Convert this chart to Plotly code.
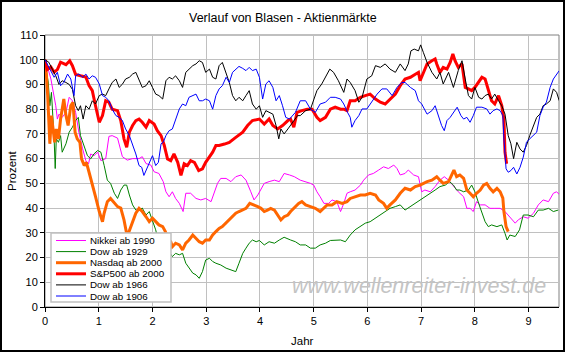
import plotly.graph_objects as go

# ---------------- data (years since peak, percent of peak) ----------------
nikkei_x = [0, 0.04, 0.11, 0.17, 0.20, 0.23, 0.26, 0.32, 0.39, 0.45, 0.51, 0.57, 0.63, 0.70, 0.76, 0.81, 0.85,
            0.91, 0.98, 1.04, 1.13, 1.19, 1.25, 1.35, 1.44, 1.53, 1.63, 1.75, 1.81, 1.88, 1.97, 2.03, 2.12, 2.20,
            2.25, 2.31, 2.37, 2.43, 2.50, 2.57, 2.62, 2.71, 2.81, 2.90, 2.99, 3.09, 3.15, 3.21, 3.27, 3.37, 3.46,
            3.55, 3.65, 3.74, 3.83, 3.89, 3.96, 4.02, 4.08, 4.17, 4.27, 4.36, 4.45, 4.55, 4.64, 4.75, 4.85, 4.94,
            5.00, 5.06, 5.12, 5.19, 5.28, 5.34, 5.43, 5.50, 5.56, 5.62, 5.68, 5.77, 5.87, 5.93, 6.02, 6.11, 6.21,
            6.30, 6.39, 6.49, 6.55, 6.61, 6.70, 6.76, 6.86, 6.95, 7.01, 7.07, 7.17, 7.26, 7.35, 7.43, 7.51, 7.60,
            7.69, 7.79, 7.85, 7.91, 7.97, 8.03, 8.10, 8.19, 8.28, 8.37, 8.47, 8.56, 8.65, 8.75, 8.81, 8.90, 8.99,
            9.09, 9.18, 9.27, 9.37, 9.46, 9.52, 9.58]
nikkei_y = [100, 97.6, 92.2, 85.5, 81.4, 76, 78, 76.7, 78.7, 84.8, 83.4, 78.7, 70.7, 64, 59.2, 57.9, 61.9,
            61.2, 62.6, 59.2, 60, 69, 69.3, 68.3, 60.8, 59.4, 60, 60, 60.8, 58, 57.4, 54.7, 54, 50.7,
            46.6, 44.6, 46.6, 43.9, 41.9, 38.6, 46, 46, 43.9, 43.3, 43.9, 42.6, 46, 50, 52, 52, 50.7,
            52.7, 53.4, 51.3, 46.6, 43.3, 45.3, 48, 50, 50.7, 51.3, 50.7, 54, 53.4, 52.7, 51.3, 50.7, 50,
            49.3, 46.6, 44.6, 41.9, 41.9, 43.3, 42.6, 38.6, 41.9, 46, 46.6, 47.3, 49.3, 51.3, 53.4, 54, 55.4,
            56.7, 56, 57.4, 56, 53.4, 54, 55.4, 53.4, 52.7, 46.6, 47.3, 46.6, 48.7, 51.3, 52.7, 51.3, 48.7,
            46.6, 44.6, 39.9, 39.9, 38.6, 42.6, 41.3, 41.3, 39.9, 39.9, 39.9, 38.6, 36.5, 33.9, 35.3, 36.5, 35.9,
            37.9, 41.3, 43.3, 42.6, 46, 46.6, 45.3]

dow29_x = [0, 0.02, 0.06, 0.09, 0.12, 0.15, 0.17, 0.19, 0.21, 0.25, 0.29, 0.32, 0.39, 0.45, 0.51, 0.57, 0.62,
           0.66, 0.73, 0.79, 0.85, 0.91, 0.98, 1.04, 1.10, 1.16, 1.22, 1.29, 1.35, 1.41, 1.47, 1.52, 1.57, 1.63,
           1.69, 1.75, 1.81, 1.88, 1.94, 2.00, 2.06, 2.11, 2.16, 2.20, 2.25, 2.31, 2.37, 2.43, 2.50, 2.56, 2.62,
           2.68, 2.75, 2.81, 2.87, 2.93, 2.99, 3.06, 3.12, 3.18, 3.27, 3.37, 3.46, 3.55, 3.61, 3.68, 3.74, 3.80,
           3.86, 3.93, 3.99, 4.08, 4.17, 4.27, 4.36, 4.45, 4.57, 4.66, 4.75, 4.85, 4.94, 5.03, 5.12, 5.22, 5.31,
           5.40, 5.50, 5.59, 5.68, 5.77, 5.87, 5.96, 6.05, 6.15, 6.24, 6.33, 6.42, 6.52, 6.61, 6.70, 6.80, 6.89,
           6.98, 7.07, 7.17, 7.26, 7.35, 7.45, 7.53, 7.60, 7.66, 7.72, 7.79, 7.88, 7.94, 8.00, 8.07, 8.13, 8.19,
           8.25, 8.31, 8.41, 8.50, 8.56, 8.60, 8.65, 8.75, 8.83, 8.90, 8.99, 9.09, 9.18, 9.27, 9.37, 9.46, 9.55]
dow29_y = [100, 96, 91, 81.4, 86.8, 76, 68, 56, 68, 66.6, 69.3, 62.6, 66, 70.7, 72.7, 75.4, 76.7,
           69.3, 65.3, 61.2, 59.9, 61.9, 63.3, 62.6, 57.3, 51.3, 50, 46, 43.9, 47.3, 49.3, 49.3, 45.3, 41.3,
           39.2, 39.2, 40, 37.2, 38.6, 35.2, 31.2, 26.4, 27.8, 29.1, 25.8, 22.4, 20.4, 21.7, 21.1, 21.7, 17.7,
           15.7, 13.7, 13, 11.6, 14.3, 19, 19.7, 18.4, 17.7, 17, 15.7, 15, 14.3, 17.7, 21.7, 23.8, 25.8,
           27.1, 26.4, 26.9, 25.1, 26.4, 25.8, 27.1, 28.2, 27.1, 26.4, 25.1, 25.1, 23.8, 23.8, 25.1, 25.8, 26.9,
           27.1, 27.1, 26.4, 29.1, 31.2, 32.5, 33.9, 34.5, 35.9, 37.2, 38.6, 39.9, 40.6, 41.3, 39.2, 40.6, 41.9,
           43.3, 44.6, 46, 47.3, 48.7, 49.3, 50.7, 49.3, 47.3, 47.3, 46.6, 47.3, 49.3, 46.6, 41.9, 37.9, 34.5,
           32.5, 33.2, 32.5, 33.2, 29.8, 27.1, 29.1, 28.5, 31.2, 37.2, 37.2, 36.5, 39.2, 39.2, 39.9, 38.6, 39.2]

nasdaq_x = [0, 0.02, 0.05, 0.07, 0.09, 0.12, 0.15, 0.18, 0.21, 0.25, 0.29, 0.32, 0.35, 0.39, 0.43, 0.48, 0.52,
            0.56, 0.60, 0.65, 0.68, 0.73, 0.77, 0.82, 0.88, 0.94, 1.01, 1.07, 1.10, 1.16, 1.22, 1.29, 1.35, 1.41,
            1.47, 1.53, 1.58, 1.63, 1.69, 1.75, 1.81, 1.88, 1.94, 2.00, 2.06, 2.12, 2.19, 2.24, 2.28, 2.34, 2.37,
            2.43, 2.50, 2.56, 2.62, 2.68, 2.75, 2.81, 2.87, 2.93, 2.99, 3.06, 3.12, 3.18, 3.24, 3.30, 3.37, 3.43,
            3.49, 3.55, 3.61, 3.68, 3.74, 3.81, 3.89, 3.96, 4.02, 4.08, 4.14, 4.20, 4.27, 4.33, 4.39, 4.45, 4.52,
            4.57, 4.63, 4.72, 4.78, 4.85, 4.94, 5.03, 5.12, 5.19, 5.25, 5.34, 5.43, 5.53, 5.62, 5.68, 5.77, 5.87,
            5.96, 6.05, 6.15, 6.21, 6.30, 6.36, 6.42, 6.52, 6.61, 6.70, 6.80, 6.89, 6.98, 7.04, 7.11, 7.20, 7.29,
            7.35, 7.41, 7.51, 7.57, 7.61, 7.66, 7.72, 7.79, 7.85, 7.91, 7.97, 8.03, 8.10, 8.16, 8.22, 8.28, 8.34,
            8.41, 8.47, 8.52, 8.54, 8.58, 8.62]
nasdaq_y = [100, 96, 85.5, 77.4, 66, 77.4, 72, 66.6, 72, 68, 76, 80, 84.1, 77.4, 73.4, 81.4, 82.8,
            70.7, 68, 66.6, 59.9, 57.2, 58.5, 54.5, 50, 44.6, 38.6, 34.5, 37.9, 42.6, 43.9, 41.9, 40.6, 40,
            35.2, 28.5, 31.2, 33.9, 37.9, 39.9, 38.6, 36.5, 34.5, 35.9, 34.5, 33.2, 32.5, 30.5, 27.8, 26.4, 24.4,
            25.8, 25.1, 23.1, 25.8, 27.1, 29.1, 27.8, 26.4, 25.8, 27.1, 27.1, 29.1, 30.5, 31.8, 32.5, 33.9, 35.2,
            36.5, 37.9, 38.6, 39.2, 39.9, 41.9, 41.3, 40.6, 39.9, 38.6, 39.2, 39.9, 39.2, 37.2, 35.2, 36.5, 37.2,
            38.6, 39.9, 41.9, 42.6, 41.3, 40.6, 39.9, 38.6, 39.9, 41.3, 41.3, 42.6, 41.9, 42.6, 43.9, 44.6, 45.3,
            45.3, 46, 45.3, 43.3, 41.9, 39.9, 41.3, 43.3, 46, 48, 47.3, 48.7, 49.3, 50, 50.7, 51.3, 52.7,
            51.3, 50, 50.7, 54, 55.4, 52.7, 53.4, 52, 47.3, 46, 44.6, 46, 47.3, 49.3, 50, 48, 46.6,
            48, 46.6, 44, 38.6, 32.5, 30.5]

sp500_x = [0, 0.04, 0.11, 0.17, 0.23, 0.29, 0.39, 0.46, 0.51, 0.57, 0.66, 0.76, 0.82, 0.88, 0.94, 1.01, 1.07,
           1.13, 1.19, 1.25, 1.35, 1.41, 1.47, 1.52, 1.57, 1.63, 1.69, 1.75, 1.81, 1.88, 1.94, 2.03, 2.09, 2.16,
           2.22, 2.28, 2.34, 2.40, 2.47, 2.53, 2.59, 2.65, 2.71, 2.78, 2.86, 2.93, 2.99, 3.06, 3.12, 3.18, 3.24,
           3.34, 3.43, 3.55, 3.68, 3.77, 3.86, 3.99, 4.08, 4.17, 4.24, 4.33, 4.42, 4.52, 4.57, 4.63, 4.69, 4.78,
           4.88, 4.97, 5.06, 5.12, 5.22, 5.31, 5.40, 5.50, 5.56, 5.62, 5.68, 5.77, 5.87, 5.96, 6.05, 6.15, 6.24,
           6.33, 6.42, 6.52, 6.61, 6.70, 6.80, 6.89, 6.95, 6.98, 7.04, 7.11, 7.20, 7.26, 7.29, 7.35, 7.41, 7.48,
           7.54, 7.59, 7.63, 7.69, 7.76, 7.82, 7.88, 7.94, 8.00, 8.07, 8.13, 8.19, 8.25, 8.31, 8.37, 8.44, 8.50,
           8.54, 8.56, 8.59]
sp500_y = [100, 96, 97, 95, 96, 99, 98, 99.6, 97.6, 94, 93.5, 93, 89.5, 87.5, 81.4, 74.7, 77.4,
           83.4, 82.8, 80, 79.4, 75.4, 68, 64.6, 70.7, 73.4, 75.4, 76, 74.7, 72.7, 75.4, 74, 71.3, 69.3,
           65.3, 59.9, 59.2, 61.9, 58.5, 53.2, 57.9, 57.2, 59.2, 58.5, 55.2, 55.9, 58.5, 60.6, 62.6, 65.3, 65.3,
           65.9, 66.6, 68.6, 70.7, 73.4, 75.4, 76, 74, 76, 73.4, 72, 73.4, 75.4, 76, 72.7, 78.7, 79.4,
           80, 80, 76.7, 75.4, 76.7, 80, 80.8, 80, 80, 79.4, 83.4, 83.4, 84.8, 85.5, 86.1, 84.1, 82.8,
           82.1, 84.1, 86.1, 89.5, 92.2, 92.9, 94.2, 94.9, 91.5, 94.9, 98.3, 99.6, 100.3, 98.3, 94.9, 96.9, 96.2,
           98.9, 102.3, 99.6, 96.9, 98.3, 88.8, 88.2, 87.5, 88.8, 90.8, 92.9, 92.2, 88.2, 83.4, 82.1, 85.5, 81.4,
           76, 62.6, 57.9]

dow66_x = [0, 0.04, 0.07, 0.14, 0.20, 0.26, 0.32, 0.39, 0.45, 0.51, 0.57, 0.62, 0.66, 0.71, 0.76, 0.82, 0.88,
           0.94, 1.01, 1.07, 1.13, 1.19, 1.25, 1.32, 1.38, 1.44, 1.50, 1.57, 1.63, 1.69, 1.75, 1.81, 1.88, 1.94,
           2.00, 2.06, 2.12, 2.19, 2.25, 2.31, 2.37, 2.43, 2.50, 2.56, 2.62, 2.68, 2.75, 2.81, 2.87, 2.93, 2.99,
           3.06, 3.12, 3.18, 3.24, 3.30, 3.37, 3.43, 3.49, 3.55, 3.61, 3.68, 3.74, 3.80, 3.86, 3.93, 3.99, 4.05,
           4.11, 4.17, 4.24, 4.30, 4.35, 4.39, 4.45, 4.52, 4.61, 4.70, 4.75, 4.85, 4.94, 5.00, 5.06, 5.15, 5.22,
           5.30, 5.37, 5.46, 5.56, 5.62, 5.68, 5.77, 5.84, 5.90, 5.99, 6.08, 6.15, 6.24, 6.33, 6.42, 6.52, 6.61,
           6.70, 6.76, 6.81, 6.87, 6.95, 6.99, 7.04, 7.11, 7.20, 7.29, 7.35, 7.41, 7.51, 7.60, 7.69, 7.76, 7.82,
           7.88, 7.94, 8.00, 8.07, 8.13, 8.19, 8.25, 8.31, 8.37, 8.44, 8.50, 8.56, 8.62, 8.67, 8.72, 8.78, 8.84,
           8.90, 8.96, 9.02, 9.09, 9.15, 9.21, 9.27, 9.33, 9.40, 9.46, 9.52, 9.57]
dow66_y = [100, 99.6, 99, 96, 93.5, 90, 91.5, 90.8, 90, 88, 81.4, 79.4, 81.4, 76, 81.4, 80, 83.4,
           82.1, 85.5, 86.1, 85.5, 88.2, 90.8, 92.2, 88.8, 90.1, 92.2, 92.9, 94.2, 94.9, 91.5, 88.8, 89.5, 91.5,
           88.8, 86.1, 85.5, 84.1, 91.5, 92.9, 92.2, 93.5, 91.5, 88.8, 94.9, 96.2, 97.6, 98.3, 99.6, 98.9, 94.9,
           96.2, 92.9, 92.2, 97.6, 98.9, 94.9, 90.8, 85.5, 83.4, 84.8, 83.4, 85.5, 87.5, 82.1, 80, 81.4, 76.7,
           79.4, 78.7, 78, 73.4, 68, 72, 70, 72, 74.7, 77.4, 77.4, 79.4, 80, 83.4, 87.5, 90.2, 92.9,
           96.2, 94.9, 91.5, 86.8, 92.2, 90.8, 87.5, 82.8, 84.8, 92.2, 93.5, 97.6, 96.9, 98.3, 96.2, 94.9, 98.3,
           95.6, 98.3, 103.6, 104.3, 103.6, 106, 103, 98.9, 94.9, 92.2, 94.9, 90.2, 94.9, 88.8, 95.6, 99.6, 92.2,
           85.5, 84.1, 88.8, 84.8, 84.1, 85.5, 86.1, 84.1, 86.1, 83.4, 81.4, 78, 69.3, 66, 60, 66.6, 63.9,
           62.6, 65.3, 69.3, 73.4, 76.7, 78, 81.4, 82.1, 83.4, 88.2, 86.8, 83.4]

dow06_x = [0, 0.04, 0.11, 0.17, 0.23, 0.29, 0.35, 0.42, 0.48, 0.54, 0.57, 0.63, 0.70, 0.76, 0.82, 0.88, 0.94,
           1.01, 1.07, 1.13, 1.19, 1.25, 1.32, 1.38, 1.44, 1.50, 1.57, 1.63, 1.69, 1.75, 1.80, 1.84, 1.89, 1.94,
           2.00, 2.06, 2.11, 2.16, 2.20, 2.25, 2.31, 2.37, 2.43, 2.50, 2.56, 2.62, 2.68, 2.75, 2.81, 2.87, 2.93,
           2.99, 3.06, 3.12, 3.18, 3.24, 3.30, 3.37, 3.43, 3.49, 3.55, 3.61, 3.68, 3.74, 3.80, 3.86, 3.93, 3.99,
           4.05, 4.11, 4.17, 4.24, 4.30, 4.36, 4.42, 4.48, 4.55, 4.61, 4.66, 4.75, 4.85, 4.94, 5.03, 5.12, 5.22,
           5.31, 5.40, 5.50, 5.56, 5.63, 5.68, 5.71, 5.77, 5.84, 5.90, 5.99, 6.08, 6.18, 6.27, 6.36, 6.46, 6.55,
           6.64, 6.70, 6.80, 6.89, 6.95, 7.01, 7.11, 7.20, 7.26, 7.32, 7.38, 7.43, 7.48, 7.54, 7.60, 7.67, 7.74,
           7.79, 7.85, 7.91, 7.97, 8.03, 8.13, 8.22, 8.28, 8.34, 8.41, 8.47, 8.52, 8.54, 8.58, 8.62, 8.67, 8.72,
           8.78, 8.84, 8.90, 8.96, 9.02, 9.09, 9.15, 9.21, 9.27, 9.33, 9.40, 9.46, 9.52, 9.57]
dow06_y = [100, 98.3, 95.6, 92.9, 94.9, 89.5, 90.8, 94.2, 92.2, 85.5, 93.5, 94.2, 92.9, 94.2, 92.2, 93.5, 92.9,
           90.2, 85.5, 84.8, 83.4, 80, 77.4, 76.7, 75.4, 72, 69.3, 66, 61.9, 57.2, 56.5, 53.2, 55.9, 57.9,
           61.2, 57.2, 58.5, 66, 66.6, 69.3, 71.3, 72, 75.4, 80.1, 82.1, 81.4, 84.8, 85.5, 86.1, 83.4, 83.4,
           84.1, 83.4, 80, 85.5, 88.2, 89.5, 92.9, 90.8, 94.9, 96.2, 97.3, 96.5, 95.6, 96.9, 95.6, 96.2, 92.9,
           84.1, 90.2, 91.5, 88.8, 83.4, 85.5, 81.4, 76.7, 76, 77.4, 78.7, 83.4, 83.4, 80, 78.7, 82.1, 82.8,
           84.8, 84.8, 84.1, 82.1, 78.7, 76.7, 72.7, 75.4, 77.4, 80.1, 80.1, 82.8, 86.1, 88.2, 88.2, 85.5, 88.8,
           90.8, 90.8, 88.8, 87.5, 83.4, 82.1, 78, 79.4, 81.4, 77.4, 73.4, 71.3, 75.4, 76.7, 78.7, 80.8, 77.4,
           76, 76.7, 74.7, 77.4, 80.8, 80.8, 80.1, 78, 79.4, 80.1, 79.4, 77.4, 68, 55.9, 54.5, 55.2, 56.5,
           53.8, 56.5, 60.6, 66.6, 68, 69.3, 70.7, 77.4, 80.8, 82.8, 88.8, 92.2, 94.2, 95.6]

series_names = ["Nikkei ab 1990", "Dow ab 1929", "Nasdaq ab 2000", "S&P500 ab 2000", "Dow ab 1966", "Dow ab 1906"]
series_x = [nikkei_x, dow29_x, nasdaq_x, sp500_x, dow66_x, dow06_x]
series_y = [nikkei_y, dow29_y, nasdaq_y, sp500_y, dow66_y, dow06_y]

x_ticks = list(range(0, 10))
y_ticks = list(range(0, 111, 10))

# ---------------- styles ----------------
colors = ["#FF00FF", "#008000", "#FF6600", "#FF0000", "#000000", "#0000FF"]
widths = [1, 1, 3, 3, 1, 1]
FONT = "Liberation Sans, Arial, sans-serif"

W, H = 566, 353
ML, MR, MT, MB = 45, 7, 35, 46
PW, PH = W - ML - MR, H - MT - MB


def px_x(px):
    return (px - ML) / PW


def px_y(py):
    return (H - MB - py) / PH


fig = go.Figure()
for name, xs, ys, c, w in zip(series_names, series_x, series_y, colors, widths):
    fig.add_trace(go.Scatter(x=xs, y=ys, mode="lines", name=name,
                             line=dict(color=c, width=w), showlegend=False))

shapes = []
annotations = []

# plot-area border
shapes.append(dict(type="rect", xref="paper", yref="paper", x0=0, x1=1, y0=0, y1=1,
                   line=dict(color="#808080", width=1), layer="below"))

# custom compact legend
LEG_TOP, LEG_BOT = 233, 302
ROW0, ROW_STEP = 240.5, 11.1
shapes.append(dict(type="rect", xref="paper", yref="paper",
                   x0=px_x(51), x1=px_x(171), y0=px_y(LEG_BOT), y1=px_y(LEG_TOP),
                   line=dict(color="#C0C0C0", width=1.5), fillcolor="white", layer="above"))
for i, (name, c, w) in enumerate(zip(series_names, colors, widths)):
    ry = ROW0 + i * ROW_STEP
    shapes.append(dict(type="line", xref="paper", yref="paper",
                       x0=px_x(56), x1=px_x(86), y0=px_y(ry), y1=px_y(ry),
                       line=dict(color=c, width=w), layer="above"))
    annotations.append(dict(text=name, xref="paper", yref="paper", x=px_x(88), y=px_y(ry),
                            xanchor="left", yanchor="middle", showarrow=False,
                            font=dict(family=FONT, size=9.8, color="black")))

# outer border
shapes.append(dict(type="rect", xref="paper", yref="paper",
                   x0=px_x(1), x1=px_x(564), y0=px_y(351), y1=px_y(1),
                   line=dict(color="black", width=2), layer="above"))

# title, axis titles, watermark
annotations.append(dict(text="Verlauf von Blasen - Aktienmärkte", xref="paper", yref="paper",
                        x=px_x(283), y=px_y(18), xanchor="center", yanchor="middle", showarrow=False,
                        font=dict(family=FONT, size=12.5, color="black")))
annotations.append(dict(text="Jahr", xref="paper", yref="paper", x=px_x(302), y=px_y(341),
                        xanchor="center", yanchor="middle", showarrow=False,
                        font=dict(family=FONT, size=11.5, color="black")))
annotations.append(dict(text="Prozent", xref="paper", yref="paper", x=px_x(12), y=px_y(171),
                        xanchor="center", yanchor="middle", showarrow=False, textangle=-90,
                        font=dict(family=FONT, size=11.5, color="black")))
annotations.append(dict(text="www.wellenreiter-invest.de", xref="paper", yref="paper",
                        x=px_x(419), y=px_y(286), xanchor="center", yanchor="middle", showarrow=False,
                        font=dict(family=FONT, size=21.5, color="#C4C4C4", style="italic")))

fig.update_layout(
    width=W, height=H,
    margin=dict(l=ML, r=MR, t=MT, b=MB),
    paper_bgcolor="white", plot_bgcolor="white",
    showlegend=False,
    shapes=shapes, annotations=annotations,
    xaxis=dict(range=[0, 9.565], tickmode="array", tickvals=x_ticks, ticktext=[str(t) for t in x_ticks],
               showgrid=True, gridcolor="#C0C0C0", gridwidth=1, zeroline=False,
               showline=True, linecolor="black", linewidth=1, ticks="outside", ticklen=4,
               tickcolor="black", tickfont=dict(family=FONT, size=11, color="black")),
    yaxis=dict(range=[0, 110], tickmode="array", tickvals=y_ticks,
               showgrid=True, gridcolor="#C0C0C0", gridwidth=1, zeroline=False,
               showline=True, linecolor="black", linewidth=1, ticks="outside", ticklen=4,
               tickcolor="black", tickfont=dict(family=FONT, size=11, color="black")),
)

fig.write_html("out.html")
